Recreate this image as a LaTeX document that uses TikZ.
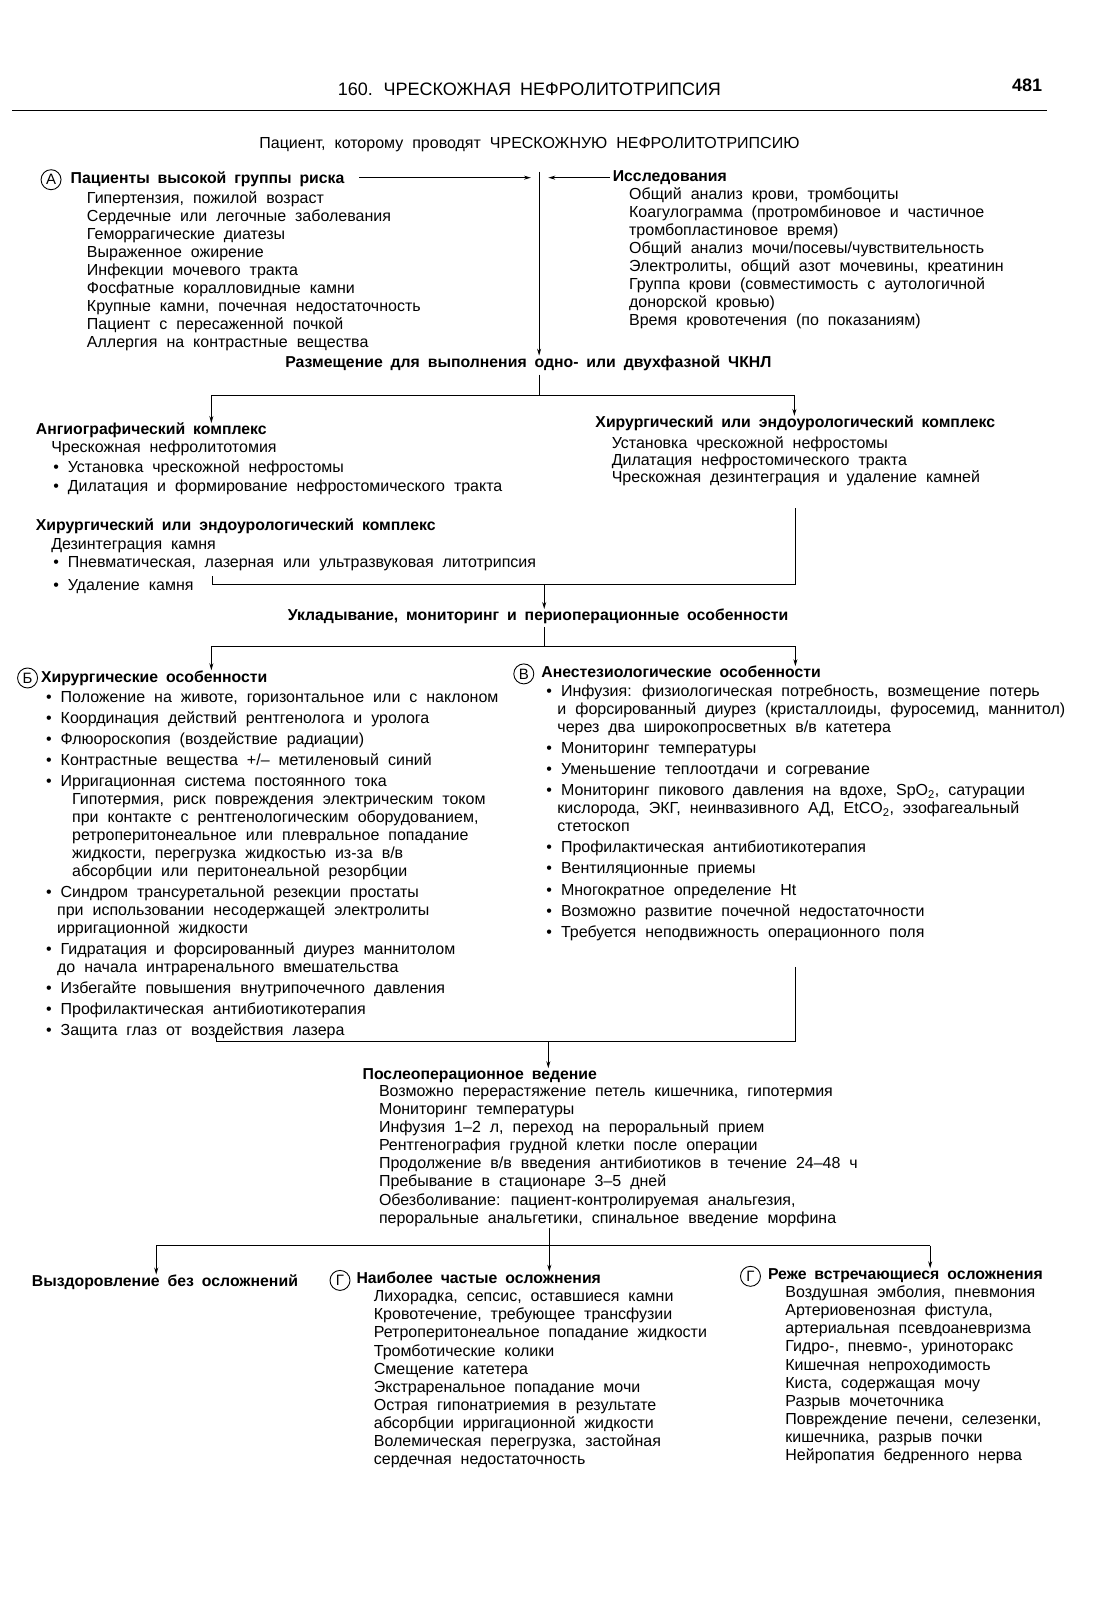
\documentclass[tikz,border=0pt]{standalone}
\usepackage{fontspec}
\setmainfont{Liberation Sans}
\usetikzlibrary{arrows.meta}
\newcommand\txtfont{\fontsize{16}{18.07}\selectfont\spaceskip=0.56em\relax}
\newcommand\hdfont{\fontsize{15.8}{18.07}\selectfont\bfseries\spaceskip=0.5em\relax}
\newcommand\hdrfont{\fontsize{18}{20}\selectfont\spaceskip=0.5em\relax}
\newcommand\bul{\textbullet\ }
\newcommand\lines[1]{\begin{tabular}[t]{@{}l@{}}#1\end{tabular}}
\begin{document}
\begin{tikzpicture}[x=1.0211pt,y=-1.0211pt,
  txt/.style={anchor=base west, inner sep=0pt, font=\txtfont},
  hd/.style={anchor=base west, inner sep=0pt, font=\hdfont},
  ctr/.style={anchor=base, inner sep=0pt, font=\txtfont},
  ltr/.style={circle, draw, line width=0.9pt, inner sep=0pt, minimum size=20pt, font=\fontsize{15}{15}\selectfont},
  ln/.style={line width=1pt},
  arr/.style={line width=1pt, -{Stealth[length=7pt,width=4pt]}}]
\useasboundingbox (0,0) rectangle (1091,1568);
% header
\node[anchor=base, inner sep=0pt, font=\hdrfont] (hdr) at (518.5,94) {160. ЧРЕСКОЖНАЯ НЕФРОЛИТОТРИПСИЯ};
\node[anchor=base, inner sep=0pt, font=\hdrfont\bfseries] (pg) at (1006,90) {481};
\draw[line width=1.3pt] (12,108) -- (1025,108);
\node[ctr] (pat) at (518.5,145) {Пациент, которому проводят ЧРЕСКОЖНУЮ НЕФРОЛИТОТРИПСИЮ};
% risk
\node[ltr] (cA) at (50,176) {А};
\node[hd] (riskH) at (69,180) {Пациенты высокой группы риска};
\node[txt] (risk) at (85,199) {\lines{Гипертензия, пожилой возраст\\
Сердечные или легочные заболевания\\
Геморрагические диатезы\\
Выраженное ожирение\\
Инфекции мочевого тракта\\
Фосфатные коралловидные камни\\
Крупные камни, почечная недостаточность\\
Пациент с пересаженной почкой\\
Аллергия на контрастные вещества}};
\node[hd] (invH) at (600,178) {Исследования};
\node[txt] (inv) at (616,195) {\lines{Общий анализ крови, тромбоциты\\
Коагулограмма (протромбиновое и частичное\\
тромбопластиновое время)\\
Общий анализ мочи/посевы/чувствительность\\
Электролиты, общий азот мочевины, креатинин\\
Группа крови (совместимость с аутологичной\\
донорской кровью)\\
Время кровотечения (по показаниям)}};
\node[hd, anchor=base] (place) at (517.5,360) {Размещение для выполнения одно- или двухфазной ЧКНЛ};
\coordinate (vtop) at (528,168);
\coordinate (aS) at (352,174);
\coordinate (aE) at (520,174);
\coordinate (iS) at (597,174);
\coordinate (iE) at (537,174);
\draw[arr] (vtop) -- (vtop |- place.north);
\draw[arr] (aS) -- (aE);
\draw[arr] (iS) -- (iE);
% split 1
\coordinate (s1a) at (528,367);
\coordinate (s1b) at (528,387);
\coordinate (s1l) at (207,387);
\coordinate (s1r) at (778,387);
\draw[ln] (s1a) -- (s1b);
\draw[ln] (s1l) -- (s1r);
\node[hd] (angH) at (35,426) {Ангиографический комплекс};
\node[hd] (surgRH) at (583,419) {Хирургический или эндоурологический комплекс};
\draw[arr] (s1l) -- (s1l |- angH.north);
\draw[arr] (s1r) -- (s1r |- surgRH.north);
\node[txt] (ang) at (50,443) {\lines{Чрескожная нефролитотомия\\[2pt]
\hspace*{2pt}\bul Установка чрескожной нефростомы\\[1.5pt]
\hspace*{2pt}\bul Дилатация и формирование нефростомического тракта}};
\node[hd] (surgLH) at (35,520) {Хирургический или эндоурологический комплекс};
\node[txt] (surgL) at (50,538) {\lines{Дезинтеграция камня\\
\hspace*{2pt}\bul Пневматическая, лазерная или ультразвуковая литотрипсия\\[5pt]
\hspace*{2pt}\bul Удаление камня}};
\node[txt] (surgR) at (599,439) {\lines{Установка чрескожной нефростомы\\[-0.7pt]
Дилатация нефростомического тракта\\[-0.7pt]
Чрескожная дезинтеграция и удаление камней}};
% join 2
\coordinate (j2r) at (779,498);
\coordinate (j2c) at (779,572);
\coordinate (j2l) at (208,572);
\coordinate (j2t) at (208,564);
\coordinate (j2m) at (533,572);
\draw[ln] (j2r) -- (j2c) -- (j2l) -- (j2t);
\node[hd, anchor=base] (ukl) at (527,608) {Укладывание, мониторинг и периоперационные особенности};
\draw[arr] (j2m) -- (j2m |- ukl.north);
% split 3
\coordinate (s3a) at (533,614);
\coordinate (s3b) at (533,633);
\coordinate (s3l) at (207,633);
\coordinate (s3r) at (779,633);
\draw[ln] (s3a) -- (s3b);
\draw[ln] (s3l) -- (s3r);
\node[ltr] (cB) at (27,664) {Б};
\node[hd] (surgH) at (40,668) {Хирургические особенности};
\node[ltr] (cV) at (513,660) {В};
\node[hd] (anesH) at (530,664) {Анестезиологические особенности};
\draw[arr] (s3l) -- (s3l |- surgH.north);
\draw[arr] (s3r) -- (s3r |- anesH.north);
\node[txt] (surg) at (45,688) {\lines{\bul Положение на животе, горизонтальное или с наклоном\\[2.85pt]
\bul Координация действий рентгенолога и уролога\\[2.85pt]
\bul Флюороскопия (воздействие радиации)\\[2.85pt]
\bul Контрастные вещества +/– метиленовый синий\\[2.85pt]
\bul Ирригационная система постоянного тока\\
\hspace*{26pt}Гипотермия, риск повреждения электрическим током\\
\hspace*{26pt}при контакте с рентгенологическим оборудованием,\\
\hspace*{26pt}ретроперитонеальное или плевральное попадание\\
\hspace*{26pt}жидкости, перегрузка жидкостью из-за в/в\\
\hspace*{26pt}абсорбции или перитонеальной резорбции\\[2.85pt]
\bul Синдром трансуретальной резекции простаты\\
\hspace*{11pt}при использовании несодержащей электролиты\\
\hspace*{11pt}ирригационной жидкости\\[2.85pt]
\bul Гидратация и форсированный диурез маннитолом\\
\hspace*{11pt}до начала интраренального вмешательства\\[2.85pt]
\bul Избегайте повышения внутрипочечного давления\\[2.85pt]
\bul Профилактическая антибиотикотерапия\\[2.85pt]
\bul Защита глаз от воздействия лазера}};
\node[txt] (anes) at (535,682) {\lines{\bul Инфузия: физиологическая потребность, возмещение потерь\\
\hspace*{11pt}и форсированный диурез (кристаллоиды, фуросемид, маннитол)\\
\hspace*{11pt}через два широкопросветных в/в катетера\\[3pt]
\bul Мониторинг температуры\\[3pt]
\bul Уменьшение теплоотдачи и согревание\\[3pt]
\bul Мониторинг пикового давления на вдохе, SpO\textsubscript{2}, сатурации\\
\hspace*{11pt}кислорода, ЭКГ, неинвазивного АД, EtCO\textsubscript{2}, эзофагеальный\\
\hspace*{11pt}стетоскоп\\[3pt]
\bul Профилактическая антибиотикотерапия\\[3pt]
\bul Вентиляционные приемы\\[3pt]
\bul Многократное определение Ht\\[3pt]
\bul Возможно развитие почечной недостаточности\\[3pt]
\bul Требуется неподвижность операционного поля}};
% join 4
\coordinate (j4r) at (779,947);
\coordinate (j4c) at (779,1020);
\coordinate (j4l) at (212,1020);
\coordinate (j4t) at (212,1012);
\coordinate (j4m) at (537,1020);
\draw[ln] (j4r) -- (j4c) -- (j4l) -- (j4t);
\node[hd] (postH) at (355,1057) {Послеоперационное ведение};
\draw[arr] (j4m) -- (j4m |- postH.north);
\node[txt] (post) at (371,1074) {\lines{Возможно перерастяжение петель кишечника, гипотермия\\
Мониторинг температуры\\
Инфузия 1–2 л, переход на пероральный прием\\
Рентгенография грудной клетки после операции\\
Продолжение в/в введения антибиотиков в течение 24–48 ч\\
Пребывание в стационаре 3–5 дней\\
Обезболивание: пациент-контролируемая анальгезия,\\
пероральные анальгетики, спинальное введение морфина}};
% split 5
\coordinate (s5a) at (538,1203);
\coordinate (s5b) at (538,1220);
\coordinate (s5l) at (153,1220);
\coordinate (s5r) at (911,1220);
\draw[ln] (s5a) -- (s5b);
\draw[ln] (s5l) -- (s5r);
\node[hd] (recH) at (31,1260) {Выздоровление без осложнений};
\node[ltr] (cG1) at (333,1254) {Г};
\node[hd] (freqH) at (349,1257) {Наиболее частые осложнения};
\node[ltr] (cG2) at (735,1250) {Г};
\node[hd] (rareH) at (752,1253) {Реже встречающиеся осложнения};
\draw[arr] (s5l) -- (s5l |- recH.north);
\draw[arr] (s5b) -- (s5b |- freqH.north);
\draw[arr] (s5r) -- (s5r |- rareH.north);
\node[txt] (freq) at (366,1275) {\lines{Лихорадка, сепсис, оставшиеся камни\\
Кровотечение, требующее трансфузии\\
Ретроперитонеальное попадание жидкости\\
Тромботические колики\\
Смещение катетера\\
Экстраренальное попадание мочи\\
Острая гипонатриемия в результате\\
абсорбции ирригационной жидкости\\
Волемическая перегрузка, застойная\\
сердечная недостаточность}};
\node[txt] (rare) at (769,1271) {\lines{Воздушная эмболия, пневмония\\
Артериовенозная фистула,\\
артериальная псевдоаневризма\\
Гидро-, пневмо-, уриноторакс\\
Кишечная непроходимость\\
Киста, содержащая мочу\\
Разрыв мочеточника\\
Повреждение печени, селезенки,\\
кишечника, разрыв почки\\
Нейропатия бедренного нерва}};
\end{tikzpicture}
\end{document}
